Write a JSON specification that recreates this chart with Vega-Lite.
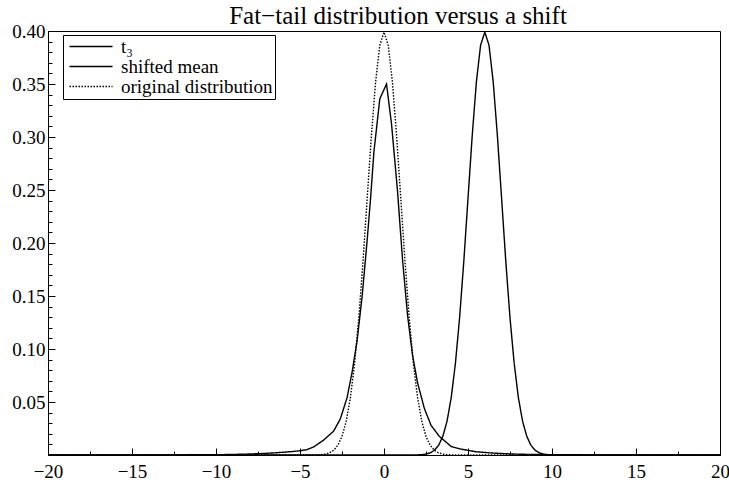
{
  "$schema": "https://vega.github.io/schema/vega-lite/v6.json",
  "width": 672,
  "height": 424,
  "autosize": {"type": "none"},
  "padding": {"left": 48, "top": 31, "right": 9, "bottom": 25},
  "background": "white",
  "title": {"text": "Fat−tail distribution versus a shift", "font": "Liberation Serif", "fontSize": 25, "fontWeight": "normal", "color": "black", "anchor": "middle", "dx": 14, "dy": 33, "offset": 6, "baseline": "alphabetic"},
  "config": {
    "view": {"stroke": "black", "strokeWidth": 1},
    "axis": {"grid": false, "domainColor": "black", "tickColor": "black", "labelColor": "black", "labelFont": "Liberation Serif", "labelFontSize": 19, "title": null, "labelOverlap": false, "labelFlush": false}
  },
  "data": {"values": [
    {"series": "t₃", "x": -20, "y": 0.00002},
    {"series": "t₃", "x": -16, "y": 0.00004},
    {"series": "t₃", "x": -13, "y": 0.0001},
    {"series": "t₃", "x": -11, "y": 0.0002},
    {"series": "t₃", "x": -9.5, "y": 0.0004},
    {"series": "t₃", "x": -8.5, "y": 0.0007},
    {"series": "t₃", "x": -7.5, "y": 0.0012},
    {"series": "t₃", "x": -6.5, "y": 0.002},
    {"series": "t₃", "x": -5.5, "y": 0.0032},
    {"series": "t₃", "x": -5, "y": 0.004},
    {"series": "t₃", "x": -4.6, "y": 0.005},
    {"series": "t₃", "x": -4.2, "y": 0.0075},
    {"series": "t₃", "x": -3.6, "y": 0.014},
    {"series": "t₃", "x": -3.0, "y": 0.0225},
    {"series": "t₃", "x": -2.6, "y": 0.034},
    {"series": "t₃", "x": -2.2, "y": 0.054},
    {"series": "t₃", "x": -1.9, "y": 0.078},
    {"series": "t₃", "x": -1.6, "y": 0.108},
    {"series": "t₃", "x": -1.3, "y": 0.15},
    {"series": "t₃", "x": -1.0, "y": 0.203},
    {"series": "t₃", "x": -0.8, "y": 0.242},
    {"series": "t₃", "x": -0.6, "y": 0.286},
    {"series": "t₃", "x": -0.25, "y": 0.336},
    {"series": "t₃", "x": 0.15, "y": 0.35},
    {"series": "t₃", "x": 0.45, "y": 0.312},
    {"series": "t₃", "x": 0.8, "y": 0.25},
    {"series": "t₃", "x": 1.1, "y": 0.185},
    {"series": "t₃", "x": 1.4, "y": 0.132},
    {"series": "t₃", "x": 1.7, "y": 0.094},
    {"series": "t₃", "x": 2.0, "y": 0.068},
    {"series": "t₃", "x": 2.4, "y": 0.044},
    {"series": "t₃", "x": 2.8, "y": 0.028},
    {"series": "t₃", "x": 3.3, "y": 0.0175},
    {"series": "t₃", "x": 4.0, "y": 0.008},
    {"series": "t₃", "x": 4.6, "y": 0.0055},
    {"series": "t₃", "x": 5.5, "y": 0.003},
    {"series": "t₃", "x": 6.5, "y": 0.0018},
    {"series": "t₃", "x": 7.5, "y": 0.001},
    {"series": "t₃", "x": 8.5, "y": 0.0006},
    {"series": "t₃", "x": 10, "y": 0.0003},
    {"series": "t₃", "x": 12, "y": 0.00015},
    {"series": "t₃", "x": 15, "y": 0.00006},
    {"series": "t₃", "x": 20, "y": 0.00002},

    {"series": "shifted mean", "x": -20, "y": 0},
    {"series": "shifted mean", "x": 1, "y": 0},
    {"series": "shifted mean", "x": 1.5, "y": 0.00002},
    {"series": "shifted mean", "x": 2, "y": 0.00013},
    {"series": "shifted mean", "x": 2.25, "y": 0.00035},
    {"series": "shifted mean", "x": 2.5, "y": 0.00087},
    {"series": "shifted mean", "x": 2.75, "y": 0.00203},
    {"series": "shifted mean", "x": 3, "y": 0.00443},
    {"series": "shifted mean", "x": 3.25, "y": 0.00909},
    {"series": "shifted mean", "x": 3.5, "y": 0.01753},
    {"series": "shifted mean", "x": 3.75, "y": 0.03174},
    {"series": "shifted mean", "x": 4, "y": 0.05399},
    {"series": "shifted mean", "x": 4.25, "y": 0.08628},
    {"series": "shifted mean", "x": 4.5, "y": 0.12952},
    {"series": "shifted mean", "x": 4.75, "y": 0.18265},
    {"series": "shifted mean", "x": 5, "y": 0.24197},
    {"series": "shifted mean", "x": 5.25, "y": 0.30114},
    {"series": "shifted mean", "x": 5.5, "y": 0.35207},
    {"series": "shifted mean", "x": 5.75, "y": 0.38667},
    {"series": "shifted mean", "x": 6, "y": 0.39894},
    {"series": "shifted mean", "x": 6.25, "y": 0.38667},
    {"series": "shifted mean", "x": 6.5, "y": 0.35207},
    {"series": "shifted mean", "x": 6.75, "y": 0.30114},
    {"series": "shifted mean", "x": 7, "y": 0.24197},
    {"series": "shifted mean", "x": 7.25, "y": 0.18265},
    {"series": "shifted mean", "x": 7.5, "y": 0.12952},
    {"series": "shifted mean", "x": 7.75, "y": 0.08628},
    {"series": "shifted mean", "x": 8, "y": 0.05399},
    {"series": "shifted mean", "x": 8.25, "y": 0.03174},
    {"series": "shifted mean", "x": 8.5, "y": 0.01753},
    {"series": "shifted mean", "x": 8.75, "y": 0.00909},
    {"series": "shifted mean", "x": 9, "y": 0.00443},
    {"series": "shifted mean", "x": 9.25, "y": 0.00203},
    {"series": "shifted mean", "x": 9.5, "y": 0.00087},
    {"series": "shifted mean", "x": 9.75, "y": 0.00035},
    {"series": "shifted mean", "x": 10, "y": 0.00013},
    {"series": "shifted mean", "x": 10.5, "y": 0.00002},
    {"series": "shifted mean", "x": 11, "y": 0},
    {"series": "shifted mean", "x": 20, "y": 0},

    {"series": "original distribution", "x": -20, "y": 0},
    {"series": "original distribution", "x": -5, "y": 0},
    {"series": "original distribution", "x": -4.5, "y": 0.00002},
    {"series": "original distribution", "x": -4, "y": 0.00013},
    {"series": "original distribution", "x": -3.75, "y": 0.00035},
    {"series": "original distribution", "x": -3.5, "y": 0.00087},
    {"series": "original distribution", "x": -3.25, "y": 0.00203},
    {"series": "original distribution", "x": -3, "y": 0.00443},
    {"series": "original distribution", "x": -2.75, "y": 0.00909},
    {"series": "original distribution", "x": -2.5, "y": 0.01753},
    {"series": "original distribution", "x": -2.25, "y": 0.03174},
    {"series": "original distribution", "x": -2, "y": 0.05399},
    {"series": "original distribution", "x": -1.75, "y": 0.08628},
    {"series": "original distribution", "x": -1.5, "y": 0.12952},
    {"series": "original distribution", "x": -1.25, "y": 0.18265},
    {"series": "original distribution", "x": -1, "y": 0.24197},
    {"series": "original distribution", "x": -0.75, "y": 0.30114},
    {"series": "original distribution", "x": -0.5, "y": 0.35207},
    {"series": "original distribution", "x": -0.25, "y": 0.38667},
    {"series": "original distribution", "x": 0, "y": 0.39894},
    {"series": "original distribution", "x": 0.25, "y": 0.38667},
    {"series": "original distribution", "x": 0.5, "y": 0.35207},
    {"series": "original distribution", "x": 0.75, "y": 0.30114},
    {"series": "original distribution", "x": 1, "y": 0.24197},
    {"series": "original distribution", "x": 1.25, "y": 0.18265},
    {"series": "original distribution", "x": 1.5, "y": 0.12952},
    {"series": "original distribution", "x": 1.75, "y": 0.08628},
    {"series": "original distribution", "x": 2, "y": 0.05399},
    {"series": "original distribution", "x": 2.25, "y": 0.03174},
    {"series": "original distribution", "x": 2.5, "y": 0.01753},
    {"series": "original distribution", "x": 2.75, "y": 0.00909},
    {"series": "original distribution", "x": 3, "y": 0.00443},
    {"series": "original distribution", "x": 3.25, "y": 0.00203},
    {"series": "original distribution", "x": 3.5, "y": 0.00087},
    {"series": "original distribution", "x": 3.75, "y": 0.00035},
    {"series": "original distribution", "x": 4, "y": 0.00013},
    {"series": "original distribution", "x": 4.5, "y": 0.00002},
    {"series": "original distribution", "x": 5, "y": 0},
    {"series": "original distribution", "x": 20, "y": 0}
  ]},
  "mark": {"type": "line", "strokeWidth": 1.4, "color": "black", "clip": true},
  "encoding": {
    "x": {
      "field": "x", "type": "quantitative",
      "scale": {"domain": [-20, 20], "nice": false, "zero": false},
      "axis": {
        "values": [-20, -17.5, -15, -12.5, -10, -7.5, -5, -2.5, 0, 2.5, 5, 7.5, 10, 12.5, 15, 17.5, 20],
        "format": "d",
        "labelExpr": "datum.value % 5 === 0 ? datum.label : ''",
        "tickSize": {"condition": {"test": "datum.value % 5 === 0", "value": -7}, "value": -4},
        "labelPadding": 14
      }
    },
    "y": {
      "field": "y", "type": "quantitative",
      "scale": {"domain": [0, 0.4], "nice": false},
      "axis": {
        "values": [0, 0.01, 0.02, 0.03, 0.04, 0.05, 0.06, 0.07, 0.08, 0.09, 0.1, 0.11, 0.12, 0.13, 0.14, 0.15, 0.16, 0.17, 0.18, 0.19, 0.2, 0.21, 0.22, 0.23, 0.24, 0.25, 0.26, 0.27, 0.28, 0.29, 0.3, 0.31, 0.32, 0.33, 0.34, 0.35, 0.36, 0.37, 0.38, 0.39, 0.4],
        "labelExpr": "(round(datum.value * 100) % 5 === 0 && datum.value > 0.001) ? format(datum.value, '.2f') : ''",
        "tickSize": {"condition": {"test": "round(datum.value * 100) % 5 === 0", "value": -7}, "value": -4},
        "labelPadding": 10
      }
    },
    "strokeDash": {
      "field": "series", "type": "nominal",
      "scale": {"domain": ["t₃", "shifted mean", "original distribution"], "range": [[1, 0], [1, 0], [1.5, 1.5]]},
      "legend": {
        "orient": "none", "legendX": 15, "legendY": 4, "title": null, "direction": "vertical",
        "strokeColor": "black", "fillColor": "white", "padding": 2,
        "symbolType": "M-1,0H7.6", "symbolSize": 100, "symbolStrokeWidth": 1.4, "symbolStrokeColor": "black",
        "labelFont": "Liberation Serif", "labelFontSize": 19, "labelColor": "black", "labelOffset": 37, "rowPadding": -4, "labelLimit": 0
      }
    }
  }
}
